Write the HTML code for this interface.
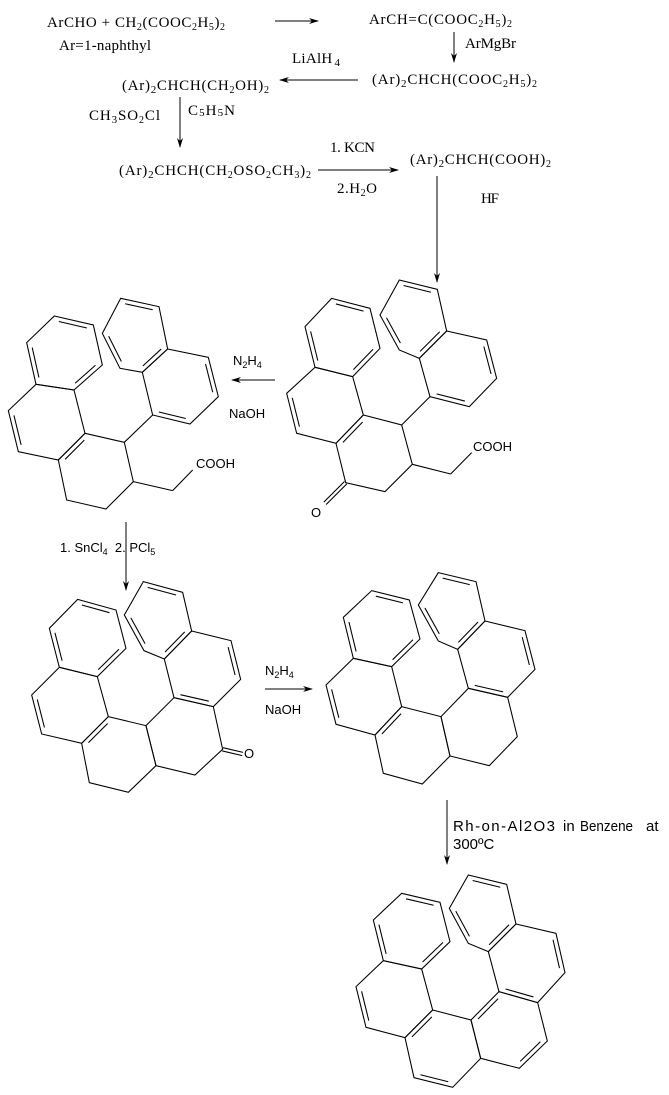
<!DOCTYPE html>
<html><head><meta charset="utf-8"><style>
html,body{margin:0;padding:0;background:#fff;}
svg{display:block;}
.s{font-family:"Liberation Serif",serif;font-size:15px;fill:#000;}
.a{font-family:"Liberation Sans",sans-serif;font-size:13px;fill:#000;}
</style></head><body>
<svg id="sv" width="669" height="1095" viewBox="0 0 669 1095" xmlns="http://www.w3.org/2000/svg">
<defs><marker id="ah" markerWidth="10" markerHeight="8" refX="9" refY="4" orient="auto" markerUnits="userSpaceOnUse"><path d="M0,1 L10,4 L0,7 L3,4 Z" fill="#000"/></marker></defs>
<g stroke="#000" stroke-width="1" fill="none">
<line x1="275" y1="21" x2="318" y2="21" marker-end="url(#ah)"/>
<line x1="454" y1="32" x2="454" y2="62" marker-end="url(#ah)"/>
<line x1="358" y1="80" x2="280" y2="80" marker-end="url(#ah)"/>
<line x1="180" y1="97" x2="180" y2="147" marker-end="url(#ah)"/>
<line x1="318" y1="170" x2="398" y2="170" marker-end="url(#ah)"/>
<line x1="437" y1="176" x2="437" y2="282" marker-end="url(#ah)"/>
<line x1="275" y1="380" x2="232" y2="380" marker-end="url(#ah)"/>
<line x1="126" y1="522" x2="126" y2="590" marker-end="url(#ah)"/>
<line x1="265" y1="689" x2="312" y2="689" marker-end="url(#ah)"/>
<line x1="447" y1="800" x2="447" y2="864" marker-end="url(#ah)"/>
</g>
<text class="s" x="47" y="27" textLength="178" lengthAdjust="spacing">ArCHO + CH<tspan font-size="10" dy="3">2</tspan><tspan dy="-3">(COOC</tspan><tspan font-size="10" dy="3">2</tspan><tspan dy="-3">H</tspan><tspan font-size="10" dy="3">5</tspan><tspan dy="-3">)</tspan><tspan font-size="10" dy="3">2</tspan></text>
<text class="s" x="59" y="50" textLength="92" lengthAdjust="spacing">Ar=1-naphthyl</text>
<text class="s" x="369" y="24" textLength="143" lengthAdjust="spacing">ArCH=C(COOC<tspan font-size="10" dy="3">2</tspan><tspan dy="-3">H</tspan><tspan font-size="10" dy="3">5</tspan><tspan dy="-3">)</tspan><tspan font-size="10" dy="3">2</tspan></text>
<text class="s" x="465" y="48" textLength="51" lengthAdjust="spacing">ArMgBr</text>
<text class="s" x="292" y="63" textLength="48" lengthAdjust="spacing">LiAlH<tspan font-size="11" dy="3" dx="2">4</tspan></text>
<text class="s" x="372" y="84" textLength="165" lengthAdjust="spacing">(Ar)<tspan font-size="11" dy="3">2</tspan><tspan dy="-3">CHCH(COOC</tspan><tspan font-size="10" dy="3">2</tspan><tspan dy="-3">H</tspan><tspan font-size="10" dy="3">5</tspan><tspan dy="-3">)</tspan><tspan font-size="10" dy="3">2</tspan></text>
<text class="s" x="122" y="90" textLength="147" lengthAdjust="spacing">(Ar)<tspan font-size="11" dy="3">2</tspan><tspan dy="-3">CHCH(CH</tspan><tspan font-size="10" dy="3">2</tspan><tspan dy="-3">OH)</tspan><tspan font-size="10" dy="3">2</tspan></text>
<text class="s" x="89" y="120" textLength="71" lengthAdjust="spacing">CH<tspan font-size="11" dy="3">3</tspan><tspan dy="-3">SO</tspan><tspan font-size="10" dy="3">2</tspan><tspan dy="-3">Cl</tspan></text>
<text class="s" x="188" y="115" textLength="47" lengthAdjust="spacing">C<tspan font-size="11" dy="1">5</tspan><tspan dy="-1">H</tspan><tspan font-size="11" dy="1">5</tspan><tspan dy="-1">N</tspan></text>
<text class="s" x="119" y="175" textLength="192" lengthAdjust="spacing">(Ar)<tspan font-size="11" dy="3">2</tspan><tspan dy="-3">CHCH(CH</tspan><tspan font-size="10" dy="3">2</tspan><tspan dy="-3">OSO</tspan><tspan font-size="10" dy="3">2</tspan><tspan dy="-3">CH</tspan><tspan font-size="10" dy="3">3</tspan><tspan dy="-3">)</tspan><tspan font-size="10" dy="3">2</tspan></text>
<text class="s" x="330" y="152" textLength="45" lengthAdjust="spacing">1. KCN</text>
<text class="s" x="337" y="193" textLength="40" lengthAdjust="spacing">2.H<tspan font-size="10" dy="3">2</tspan><tspan dy="-3">O</tspan></text>
<text class="s" x="410" y="164" textLength="141" lengthAdjust="spacing">(Ar)<tspan font-size="11" dy="3">2</tspan><tspan dy="-3">CHCH(COOH)</tspan><tspan font-size="10" dy="3">2</tspan></text>
<text class="s" x="481" y="203" textLength="18" lengthAdjust="spacing">HF</text>
<text class="a" x="233" y="365">N<tspan font-size="9" dy="3">2</tspan><tspan dy="-3">H</tspan><tspan font-size="9" dy="3">4</tspan></text>
<text class="a" x="229" y="418">NaOH</text>
<text class="a" x="60" y="552" xml:space="preserve">1. SnCl<tspan font-size="9" dy="3">4</tspan><tspan dy="-3">  2. PCl</tspan><tspan font-size="9" dy="3">5</tspan></text>
<text class="a" x="265" y="675">N<tspan font-size="9" dy="3">2</tspan><tspan dy="-3">H</tspan><tspan font-size="9" dy="3">4</tspan></text>
<text class="a" x="265" y="714">NaOH</text>
<text class="a" x="453" y="831" style="font-size:15px" textLength="102" lengthAdjust="spacing">Rh-on-Al2O3</text>
<text class="a" x="563" y="831" style="font-size:15px">in</text>
<text class="a" x="580" y="831" style="font-size:15px" textLength="53" lengthAdjust="spacingAndGlyphs">Benzene</text>
<text class="a" x="646" y="831" style="font-size:15px">at</text>
<text class="a" x="453" y="849" style="font-size:15px">300ºC</text>
<text class="a" x="196" y="468">COOH</text>
<text class="a" x="473" y="451">COOH</text>
<text class="a" x="311" y="517">O</text>
<text class="a" x="244" y="758">O</text>
<g id="mols" stroke="#000" fill="none" stroke-width="3.2"></g>
</svg>
<script>
var NS="http://www.w3.org/2000/svg";
function L(g,a,b){var l=document.createElementNS(NS,"line");l.setAttribute("x1",a[0]);l.setAttribute("y1",a[1]);l.setAttribute("x2",b[0]);l.setAttribute("y2",b[1]);g.appendChild(l);}
function mol(ox,oy,rings,dbl,extra,dext){
 var g=document.createElementNS(NS,"g");g.setAttribute("transform","translate("+ox+","+oy+") scale(0.3333)");
 document.getElementById("mols").appendChild(g);
 rings.forEach(function(r){var p=document.createElementNS(NS,"polygon");p.setAttribute("points",r.map(function(v){return v.join(",")}).join(" "));g.appendChild(p);});
 dbl.forEach(function(d){var r=rings[d[0]],i=d[1],a=r[i],b=r[(i+1)%6];
  var cx=0,cy=0;r.forEach(function(v){cx+=v[0];cy+=v[1];});cx/=6;cy/=6;
  var dx=b[0]-a[0],dy=b[1]-a[1],len=Math.hypot(dx,dy),nx=-dy/len,ny=dx/len;
  var mx=(a[0]+b[0])/2,my=(a[1]+b[1])/2;if((cx-mx)*nx+(cy-my)*ny<0){nx=-nx;ny=-ny;}
  var o=13,s=0.14;
  L(g,[a[0]+dx*s+nx*o,a[1]+dy*s+ny*o],[b[0]-dx*s+nx*o,b[1]-dy*s+ny*o]);});
 (extra||[]).forEach(function(e){for(var k=0;k<e.length-1;k++)L(g,e[k],e[k+1]);});
 (dext||[]).forEach(function(e){var a=e[0],b=e[1],dx=b[0]-a[0],dy=b[1]-a[1],len=Math.hypot(dx,dy),nx=-dy/len*5,ny=dx/len*5;
  L(g,[a[0]+nx,a[1]+ny],[b[0]+nx,b[1]+ny]);L(g,[a[0]-nx,a[1]-ny],[b[0]-nx,b[1]-ny]);});
}
var std=[[0,0],[0,2],[0,4],[1,1],[1,3],[2,0],[2,2],[2,4],[3,4],[4,5]];
mol(0,280,[
 [[362,55],[477,80],[503,207],[427,277],[360,265],[307,160]],
 [[503,207],[625,232],[655,350],[570,432],[458,405],[427,277]],
 [[163,108],[280,135],[307,255],[222,330],[108,313],[80,188]],
 [[108,313],[222,330],[255,460],[175,540],[55,515],[25,392]],
 [[255,460],[373,487],[400,605],[318,687],[200,660],[175,540]]],std,
 [[[458,405],[373,487]],[[400,605],[518,632],[578,570]]]);
mol(280,270,[
 [[358,30],[472,58],[500,183],[418,265],[358,240],[300,135]],
 [[500,183],[620,210],[650,325],[568,410],[450,380],[418,265]],
 [[155,85],[270,115],[300,235],[218,320],[105,292],[75,170]],
 [[105,292],[218,320],[250,435],[168,520],[50,490],[20,370]],
 [[250,435],[365,465],[397,583],[315,665],[197,638],[168,520]]],std,
 [[[450,380],[365,465]],[[397,583],[512,612],[575,548]]],[[[197,638],[135,700]]]);
mol(0,560,[
 [[430,65],[548,97],[575,213],[493,297],[432,272],[373,165]],
 [[575,213],[693,242],[722,358],[640,440],[522,413],[493,297]],
 [[233,118],[348,150],[378,265],[292,350],[178,322],[148,205]],
 [[178,322],[292,350],[325,470],[245,550],[125,522],[95,405]],
 [[325,470],[438,497],[468,617],[385,697],[268,668],[245,550]],
 [[522,413],[640,440],[668,568],[585,645],[468,617],[438,497]]],std,[],[[[668,568],[728,582]]]);
mol(320,560,[
 [[355,38],[468,65],[495,183],[413,268],[355,243],[295,135]],
 [[495,183],[615,212],[645,328],[563,412],[445,385],[413,268]],
 [[155,92],[268,120],[300,237],[215,320],[100,295],[70,172]],
 [[100,295],[215,320],[245,440],[165,525],[48,493],[18,375]],
 [[245,440],[363,470],[390,588],[307,672],[190,640],[165,525]],
 [[445,385],[563,412],[592,530],[508,617],[390,588],[363,470]]],std);
mol(340,850,[
 [[385,75],[500,103],[528,222],[445,305],[385,280],[328,175]],
 [[528,222],[648,250],[675,368],[593,458],[477,425],[445,305]],
 [[185,130],[300,157],[330,275],[245,357],[130,332],[100,210]],
 [[130,332],[245,357],[278,480],[195,563],[78,532],[48,410]],
 [[278,480],[393,510],[422,625],[338,712],[222,683],[195,563]],
 [[477,425],[593,458],[622,573],[538,655],[422,625],[393,510]]],
 std.concat([[4,3],[5,5],[5,2]]));
</script>
</body></html>
